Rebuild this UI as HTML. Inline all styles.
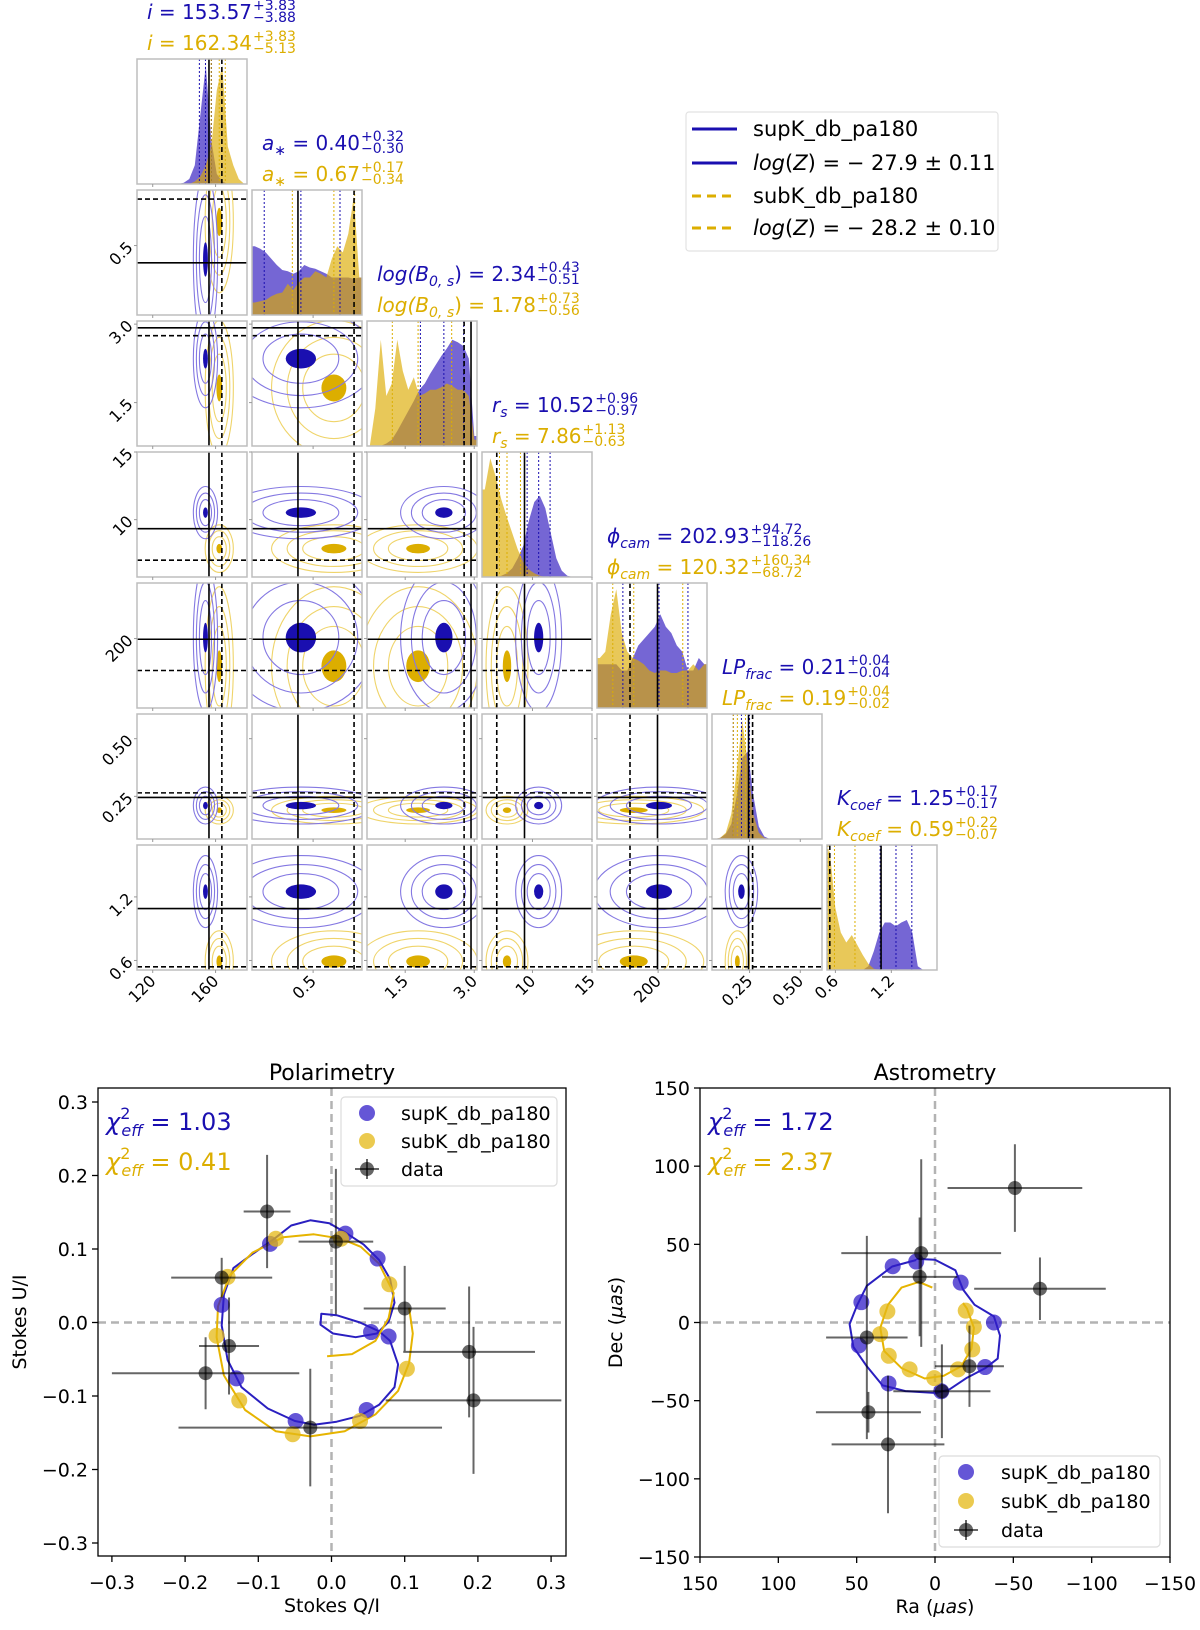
<!DOCTYPE html>
<html><head><meta charset="utf-8"><style>
html,body{margin:0;padding:0;background:#fff;}
svg{display:block;font-family:"DejaVu Sans","Liberation Sans",sans-serif;}
</style></head><body>
<svg id="fig" width="1200" height="1630" viewBox="0 0 1200 1630" xmlns="http://www.w3.org/2000/svg">
<rect x="0" y="0" width="1200" height="1630" fill="#fff"/>
<g id="corner"></g>
<g id="legendCorner">
  <rect x="686" y="112" width="312" height="139" rx="3" fill="#fff" stroke="#e2e2e2" stroke-width="1.2"/>
  <line x1="692" y1="129" x2="737" y2="129" stroke="#1a0fb0" stroke-width="3"/>
  <text x="753" y="136" font-size="21">supK_db_pa180</text>
  <line x1="692" y1="163" x2="737" y2="163" stroke="#1a0fb0" stroke-width="3"/>
  <text x="753" y="170" font-size="21"><tspan font-style="italic">log</tspan>(<tspan font-style="italic">Z</tspan>) = − 27.9 ± 0.11</text>
  <line x1="692" y1="196" x2="737" y2="196" stroke="#dcae00" stroke-width="3" stroke-dasharray="9,6"/>
  <text x="753" y="203" font-size="21">subK_db_pa180</text>
  <line x1="692" y1="228" x2="737" y2="228" stroke="#dcae00" stroke-width="3" stroke-dasharray="9,6"/>
  <text x="753" y="235" font-size="21"><tspan font-style="italic">log</tspan>(<tspan font-style="italic">Z</tspan>) = − 28.2 ± 0.10</text>
</g>
<g id="pol"></g>
<g id="ast"></g>
</svg>
<script>
// ---------- CORNER DATA ----------
const paramNames = ['i','a_star','logB','r_s','phi_cam','LP_frac','K_coef'];
const rangeMin = [110, 0, 0.67, 5.76, 0, 0.065, 0.51];
const rangeMax = [180, 0.9, 3.06, 15, 360, 0.607, 1.69];
const medSup = [153.57, 0.40, 2.34, 10.52, 202.93, 0.21, 1.25];
const plusSup = [3.83, 0.32, 0.43, 0.96, 94.72, 0.04, 0.17];
const minusSup = [3.88, 0.30, 0.51, 0.97, 118.26, 0.04, 0.17];
const medSub = [162.34, 0.67, 1.78, 7.86, 120.32, 0.19, 0.59];
const plusSub = [3.83, 0.17, 0.73, 1.13, 160.34, 0.04, 0.22];
const minusSub = [5.13, 0.34, 0.56, 0.63, 68.72, 0.02, 0.07];
const truthSolid = [155.8, 0.376, 2.93, 9.33, 198, 0.245, 1.09];
const truthDashed = [164, 0.835, 2.78, 7.0, 108, 0.265, 0.54];
const histSup_i = [0,0,0,0,0,0,0,0,0.01,0.04,0.15,0.55,0.95,0.35,0.08,0.02,0,0,0,0];
const histSub_i = [0,0,0,0,0,0,0,0,0,0,0.02,0.06,0.15,0.3,0.75,0.95,0.3,0.15,0.04,0];
const histSup_a = [0.55,0.53,0.5,0.45,0.4,0.36,0.35,0.33,0.35,0.4,0.38,0.37,0.35,0.33,0.3,0.3,0.3,0.3,0.29,0.3];
const histSub_a = [0.1,0.11,0.12,0.15,0.17,0.18,0.25,0.2,0.26,0.3,0.3,0.35,0.33,0.3,0.45,0.55,0.5,0.65,0.95,0.3];
const histSup_B = [0,0,0,0.02,0.05,0.12,0.2,0.28,0.36,0.45,0.5,0.58,0.65,0.72,0.78,0.85,0.83,0.8,0.7,0.08];
const histSub_B = [0,0.3,0.85,0.4,0.5,0.85,0.6,0.45,0.55,0.4,0.42,0.45,0.45,0.47,0.5,0.48,0.45,0.45,0.4,0.05];
const histSup_rs = [0,0,0,0.01,0.03,0.07,0.15,0.25,0.45,0.6,0.65,0.55,0.35,0.15,0.05,0.01,0,0,0,0];
const histSub_rs = [0.7,0.95,0.8,0.62,0.48,0.35,0.22,0.12,0.06,0.03,0.01,0,0,0,0,0,0,0,0,0];
const histSup_phi = [0.35,0.35,0.35,0.35,0.3,0.3,0.4,0.5,0.55,0.6,0.65,0.75,0.65,0.6,0.5,0.45,0.3,0.3,0.4,0.35];
const histSub_phi = [0.4,0.45,0.75,0.95,0.6,0.45,0.4,0.38,0.35,0.3,0.28,0.3,0.3,0.28,0.28,0.3,0.3,0.35,0.3,0.35];
const histSup_LP = [0,0.01,0.04,0.12,0.35,0.65,0.7,0.35,0.1,0.02,0,0,0,0,0,0,0,0,0,0];
const histSub_LP = [0,0.01,0.05,0.2,0.55,0.95,0.6,0.2,0.05,0.01,0,0,0,0,0,0,0,0,0,0];
const histSup_K = [0,0,0,0,0,0,0,0.03,0.15,0.3,0.38,0.38,0.35,0.38,0.4,0.3,0.03,0,0,0];
const histSub_K = [0.95,0.5,0.3,0.22,0.28,0.2,0.12,0.05,0.01,0,0,0,0,0,0,0,0,0,0,0];
const histSup = [histSup_i,histSup_a,histSup_B,histSup_rs,histSup_phi,histSup_LP,histSup_K];
const histSub = [histSub_i,histSub_a,histSub_B,histSub_rs,histSub_phi,histSub_LP,histSub_K];
const tickVals = [[120,160],[0.5],[1.5,3.0],[10,15],[200],[0.25,0.50],[0.6,1.2]];
const tickLabels = [['120','160'],['0.5'],['1.5','3.0'],['10','15'],['200'],['0.25','0.50'],['0.6','1.2']];

// ---------- POLARIMETRY DATA ----------
const polDataQ = [-0.088,0.006,-0.150,0.100,-0.140,-0.172,0.188,0.194,-0.029];
const polDataU = [0.151,0.110,0.061,0.019,-0.032,-0.069,-0.040,-0.106,-0.143];
const polErrQ = [0.032,0.051,0.069,0.056,0.041,0.128,0.090,0.120,0.180];
const polErrU = [0.077,0.099,0.027,0.058,0.066,0.049,0.089,0.100,0.080];
const polSupQ = [0.019,0.063,-0.150,0.054,0.078,-0.130,0.048,-0.049,-0.084];
const polSupU = [0.121,0.087,0.024,-0.013,-0.019,-0.076,-0.119,-0.134,0.107];
const polSubQ = [-0.076,0.013,-0.142,0.079,-0.157,0.103,-0.126,0.039,-0.053];
const polSubU = [0.114,0.114,0.062,0.052,-0.018,-0.063,-0.106,-0.134,-0.152];
const polSupCurveQ = [-0.082,-0.055,-0.029,-0.003,0.018,0.044,0.065,0.080,0.086,0.078,0.062,0.033,0.002,-0.015,-0.014,0.007,0.039,0.065,0.080,0.091,0.086,0.065,0.039,0.007,-0.024,-0.050,-0.087,-0.123,-0.142,-0.150,-0.147,-0.134,-0.108,-0.081];
const polSupCurveU = [0.111,0.132,0.139,0.135,0.123,0.106,0.085,0.059,0.027,0.001,-0.015,-0.020,-0.015,-0.003,0.012,0.010,0.0,-0.012,-0.025,-0.057,-0.088,-0.112,-0.127,-0.135,-0.139,-0.134,-0.117,-0.088,-0.051,-0.004,0.038,0.074,0.093,0.112];
const polSubCurveQ = [-0.006,0.028,0.060,0.078,0.085,0.079,0.065,0.040,0.013,-0.024,-0.066,-0.108,-0.139,-0.155,-0.157,-0.147,-0.118,-0.076,-0.029,0.018,0.060,0.091,0.106,0.111,0.106];
const polSubCurveU = [-0.046,-0.043,-0.025,0.006,0.040,0.052,0.080,0.103,0.114,0.120,0.116,0.095,0.064,0.022,-0.020,-0.072,-0.119,-0.148,-0.155,-0.148,-0.125,-0.093,-0.055,-0.015,0.020];
const polTicks = [-0.3,-0.2,-0.1,0.0,0.1,0.2,0.3];
const polTickLabels = ['−0.3','−0.2','−0.1','0.0','0.1','0.2','0.3'];

// ---------- ASTROMETRY DATA ----------
const astDataRa = [-51,8.8,9.8,-67,43.5,-22,-4.4,42.5,30];
const astDataDec = [86,44.4,29.2,21.6,-9.6,-28,-44,-57.4,-78];
const astErrRa = [43,51,24,42,26,22,31,33.5,36];
const astErrDec = [28,60,38,20,65,26,30,13,44];
const astSupRa = [27,12,-16.4,47,-37.6,48.6,-32,29.7,-4];
const astSupDec = [36,39,25.5,13,0,-14.7,-28.5,-39,-44];
const astSubRa = [30.4,-19.6,-24.8,35,-23.8,29.5,16.2,-14.7,0.5];
const astSubDec = [7.1,7.6,-2.9,-7.4,-17.2,-21.3,-30,-30,-35.6];
const astSupCurveRa = [12.0,0,-13.0,-17.9,-25.3,-37.6,-41.5,-40.0,-32.2,-20.4,-9.3,-0.7,18.9,33.6,43.5,52.1,54.5,49.6,43.5,27.3,12.0];
const astSupCurveDec = [40.7,40.2,33.4,21.1,11.3,3.9,-8.3,-23.1,-29.2,-35.3,-42.7,-45.1,-43.9,-40.2,-28.0,-15.7,-1.0,11.3,23.5,35.8,40.0];
const astSubCurveRa = [1.7,10.3,21.4,30,34.9,32.4,21.4,6.6,-5.6,-16.7,-23.3,-24.8,-20.4,-17.9];
const astSubCurveDec = [22.3,26,22.3,11.3,-3.4,-18.2,-29.2,-35.8,-34.1,-28,-16.9,-3.4,8.8,12.5];
const astTicks = [150,100,50,0,-50,-100,-150];
const astTickLabels = ['150','100','50','0','−50','−100','−150'];

const NS='http://www.w3.org/2000/svg';
function mk(tag, attrs, parent){const e=document.createElementNS(NS,tag);for(const k in attrs)e.setAttribute(k,attrs[k]);if(parent)parent.appendChild(e);return e;}
const BLUE='#1a0fb0', GOLD='#dcae00';

// ---------- CORNER ----------
const corner=document.getElementById('corner');
const W=110,H=125;
function colLeft(c){return 137+115*c;}
function rowTop(r){return 59+131*r;}
function xS(c,v){return colLeft(c)+(v-rangeMin[c])/(rangeMax[c]-rangeMin[c])*W;}
function yS(r,v){return rowTop(r)+H-(v-rangeMin[r])/(rangeMax[r]-rangeMin[r])*H;}
const defs=mk('defs',{},corner);
const N=paramNames.length;
for(let r=0;r<N;r++){
  for(let c=0;c<=r;c++){
    const g=mk('g',{},corner);
    
    
    const cid='clip'+r+'_'+c;
    const cp=mk('clipPath',{id:cid},defs);
    mk('rect',{x:colLeft(c),y:rowTop(r),width:W,height:H},cp);
    const inner=mk('g',{'clip-path':'url(#'+cid+')'},g);
    if(r===c){
      const drawHist=(arr,fill,name)=>{
        const n=arr.length;let d='M'+colLeft(c)+','+(rowTop(r)+H);
        d+=' L'+colLeft(c)+','+(rowTop(r)+H-arr[0]*H);
        for(let k=0;k<n;k++){const v=rangeMin[c]+(k+0.5)*(rangeMax[c]-rangeMin[c])/n;d+=' L'+xS(c,v).toFixed(1)+','+(rowTop(r)+H-arr[k]*H).toFixed(1);}
        d+=' L'+(colLeft(c)+W)+','+(rowTop(r)+H-arr[n-1]*H)+' L'+(colLeft(c)+W)+','+(rowTop(r)+H)+' Z';
        const p=mk('path',{d:d,fill:fill},inner);
        
        
      };
      drawHist(histSup[c],'#7566d4','hist-sup-'+paramNames[c]);
      drawHist(histSub[c],'rgba(220,170,0,0.65)','hist-sub-'+paramNames[c]);
      [[medSup[c]-minusSup[c],medSup[c],medSup[c]+plusSup[c]],[medSub[c]-minusSub[c],medSub[c],medSub[c]+plusSub[c]]].forEach((qs,m)=>{
        qs.forEach(q=>{const x=xS(c,q);mk('line',{x1:x,y1:rowTop(r),x2:x,y2:rowTop(r)+H,stroke:m?GOLD:BLUE,'stroke-width':1,'stroke-dasharray':'2,2'},inner);});
      });
      let x=xS(c,truthSolid[c]);mk('line',{x1:x,y1:rowTop(r),x2:x,y2:rowTop(r)+H,stroke:'#000','stroke-width':1.6},inner);
      x=xS(c,truthDashed[c]);mk('line',{x1:x,y1:rowTop(r),x2:x,y2:rowTop(r)+H,stroke:'#000','stroke-width':1.6,'stroke-dasharray':'5,3'},inner);
    } else {
      const models=[[medSub,plusSub,minusSub,'#efd46a','#dcae00','sub'],[medSup,plusSup,minusSup,'#8478e2','#1a0fb0','sup']];
      models.forEach(mm=>{
        const cx=xS(c,mm[0][c]), cy=yS(r,mm[0][r]);
        const sx=(mm[1][c]+mm[2][c])/2/(rangeMax[c]-rangeMin[c])*W;
        const sy=(mm[1][r]+mm[2][r])/2/(rangeMax[r]-rangeMin[r])*H;
        [2.0,1.5,1.0].forEach(k=>{mk('ellipse',{cx:cx,cy:cy,rx:sx*k,ry:sy*k,fill:'none',stroke:mm[3],'stroke-width':1.1},inner);});
        const core=mk('ellipse',{cx:cx,cy:cy,rx:sx*0.4,ry:sy*0.4,fill:mm[4]},inner);
        
        
      });
      let x=xS(c,truthSolid[c]);mk('line',{x1:x,y1:rowTop(r),x2:x,y2:rowTop(r)+H,stroke:'#000','stroke-width':1.6},inner);
      x=xS(c,truthDashed[c]);mk('line',{x1:x,y1:rowTop(r),x2:x,y2:rowTop(r)+H,stroke:'#000','stroke-width':1.6,'stroke-dasharray':'5,3'},inner);
      let y=yS(r,truthSolid[r]);mk('line',{x1:colLeft(c),y1:y,x2:colLeft(c)+W,y2:y,stroke:'#000','stroke-width':1.6},inner);
      y=yS(r,truthDashed[r]);mk('line',{x1:colLeft(c),y1:y,x2:colLeft(c)+W,y2:y,stroke:'#000','stroke-width':1.6,'stroke-dasharray':'5,3'},inner);
    }
    mk('rect',{x:colLeft(c),y:rowTop(r),width:W,height:H,fill:'none',stroke:'#bdbdbd','stroke-width':1.5},g);
    // small ticks
    tickVals[c].forEach(v=>{const x=xS(c,v);mk('line',{x1:x,y1:rowTop(r)+H,x2:x,y2:rowTop(r)+H+3,stroke:'#999','stroke-width':1},g);});
    if(r!==c) tickVals[r].forEach(v=>{const y=yS(r,v);mk('line',{x1:colLeft(c)-3,y1:y,x2:colLeft(c),y2:y,stroke:'#999','stroke-width':1},g);});
  }
}
// tick labels
for(let c=0;c<N;c++){
  tickVals[c].forEach((v,k)=>{
    const x=xS(c,v), y=rowTop(N-1)+H+8;
    const t=mk('text',{x:x+4,y:y+4,'font-size':16,'text-anchor':'end',transform:'rotate(-45 '+(x+4)+' '+(y+4)+')'},corner);
    t.textContent=tickLabels[c][k];
    
    
  });
}
for(let r=1;r<N;r++){
  tickVals[r].forEach((v,k)=>{
    const y=yS(r,v), x=colLeft(0)-6;
    const t=mk('text',{x:x,y:y+4,'font-size':16,'text-anchor':'end',transform:'rotate(-45 '+x+' '+y+')'},corner);
    t.textContent=tickLabels[r][k];
    
    
  });
}
// titles
const symMain=['i','a','log(B','r','ϕ','LP','K'];
const symSub=['','∗','0, s','s','cam','frac','coef'];
const symClose=['','','','',')'.slice(1),'',''];
function fmt(v){return v.toFixed(2);}
function title(c,med,pl,mi,color,y){
  const x=colLeft(c)+10;
  const t=mk('text',{x:x,y:y,'font-size':20,fill:color},corner);
  
  
  const a=mk('tspan',{'font-style':'italic'},t);a.textContent=symMain[c];
  if(symSub[c]){const s=mk('tspan',{'font-style':'italic','font-size':14,dy:5},t);s.textContent=symSub[c];
    const b=mk('tspan',{dy:-5},t);b.textContent=(c===2?')':'')+' = '+fmt(med[c]);}
  else{const b=mk('tspan',{},t);b.textContent=' = '+fmt(med[c]);}
  const L=t.getComputedTextLength();
  const p=mk('text',{x:x+L+1,y:y-9,'font-size':14,fill:color},corner);p.textContent='+'+fmt(pl[c]);
  const m=mk('text',{x:x+L+1,y:y+3,'font-size':14,fill:color},corner);m.textContent='−'+fmt(mi[c]);
}
for(let c=0;c<N;c++){
  title(c,medSup,plusSup,minusSup,BLUE,rowTop(c)-40);
  title(c,medSub,plusSub,minusSub,GOLD,rowTop(c)-9);
}

// ---------- SCATTER PANELS ----------
function panel(gid,ax,ay,xs,ys,cfg){
  const g=document.getElementById(gid);
  const cp=mk('clipPath',{id:gid+'clip'},defs);
  mk('rect',{x:ax[0],y:ay[0],width:ax[1]-ax[0],height:ay[1]-ay[0]},cp);
  const inner=mk('g',{'clip-path':'url(#'+gid+'clip)'},g);
  mk('line',{x1:xs(0),y1:ay[0],x2:xs(0),y2:ay[1],stroke:'#b3b3b3','stroke-width':2.5,'stroke-dasharray':'8,5'},inner);
  mk('line',{x1:ax[0],y1:ys(0),x2:ax[1],y2:ys(0),stroke:'#b3b3b3','stroke-width':2.5,'stroke-dasharray':'8,5'},inner);
  const curve=(X,Y,col,name)=>{let d='';X.forEach((v,k)=>{d+=(k?' L':'M')+xs(v).toFixed(1)+','+ys(Y[k]).toFixed(1);});
    const p=mk('path',{d:d,fill:'none',stroke:col,'stroke-width':2,'stroke-linejoin':'round'},inner);
    
    };
  curve(cfg.supCX,cfg.supCY,'#2a1fc0','sup-model-curve');
  curve(cfg.subCX,cfg.subCY,'#e6b400','sub-model-curve');
  cfg.supX.forEach((v,k)=>{const e=mk('circle',{cx:xs(v),cy:ys(cfg.supY[k]),r:8,fill:'rgba(50,30,200,0.75)'},inner);
    
    });
  cfg.subX.forEach((v,k)=>{const e=mk('circle',{cx:xs(v),cy:ys(cfg.subY[k]),r:8,fill:'rgba(228,184,20,0.75)'},inner);
    
    });
  cfg.dX.forEach((v,k)=>{
    const cx=xs(v), cy=ys(cfg.dY[k]);
    const eg=mk('g',{},inner);
    
    
    mk('line',{x1:xs(v-cfg.eX[k]),y1:cy,x2:xs(v+cfg.eX[k]),y2:cy,stroke:'rgba(0,0,0,0.6)','stroke-width':2},eg);
    mk('line',{x1:cx,y1:ys(cfg.dY[k]-cfg.eY[k]),x2:cx,y2:ys(cfg.dY[k]+cfg.eY[k]),stroke:'rgba(0,0,0,0.6)','stroke-width':2},eg);
    mk('circle',{cx:cx,cy:cy,r:7,fill:'rgba(0,0,0,0.6)'},eg);
  });
  mk('rect',{x:ax[0],y:ay[0],width:ax[1]-ax[0],height:ay[1]-ay[0],fill:'none',stroke:'#000','stroke-width':1.3},g);
  cfg.ticks.forEach((v,k)=>{
    const x=xs(v);mk('line',{x1:x,y1:ay[1],x2:x,y2:ay[1]+6,stroke:'#000','stroke-width':1.3},g);
    const t=mk('text',{x:x,y:ay[1]+33,'font-size':19,'text-anchor':'middle'},g);t.textContent=cfg.tickLabels[k];
    
    
    const y=ys(v);mk('line',{x1:ax[0]-6,y1:y,x2:ax[0],y2:y,stroke:'#000','stroke-width':1.3},g);
    const t2=mk('text',{x:ax[0]-10,y:y+7,'font-size':19,'text-anchor':'end'},g);t2.textContent=cfg.tickLabels[k];
    
    
  });
  const tt=mk('text',{x:(ax[0]+ax[1])/2,y:ay[0]-8,'font-size':22,'text-anchor':'middle'},g);tt.textContent=cfg.title;
  
  
  const xl=mk('text',{x:(ax[0]+ax[1])/2,y:ay[1]+56,'font-size':19,'text-anchor':'middle'},g);xl.innerHTML=cfg.xlabel;
  
  
  const yx=cfg.ylx, yy=(ay[0]+ay[1])/2;
  const yl=mk('text',{x:yx,y:yy,'font-size':19,'text-anchor':'middle',transform:'rotate(-90 '+yx+' '+yy+')'},g);yl.innerHTML=cfg.ylabel;
  
  
  // chi texts
  [[cfg.chi[0],BLUE,ay[0]+42],[cfg.chi[1],GOLD,ay[0]+82]].forEach(ch=>{
    const x=ax[0]+8;
    const t=mk('text',{x:x,y:ch[2],'font-size':24,fill:ch[1]},g);
    
    
    const a=mk('tspan',{'font-style':'italic'},t);a.textContent='χ';
    const s1=mk('tspan',{'font-size':16,dy:-11},t);s1.textContent='2';
    const s2=mk('tspan',{'font-size':16,'font-style':'italic',dx:-9,dy:17},t);s2.textContent='eff';
    const b=mk('tspan',{dy:-6},t);b.textContent=' = '+ch[0];
  });
  // legend
  const L=cfg.leg;const lg=mk('g',{},g);
  
  
  mk('rect',{x:L.x,y:L.y,width:L.w,height:L.h,rx:4,fill:'rgba(255,255,255,0.85)',stroke:'#dcdcdc','stroke-width':1.2},lg);
  const ents=[['rgba(50,30,200,0.75)','supK_db_pa180'],['rgba(228,184,20,0.75)','subK_db_pa180'],['data','data']];
  ents.forEach((e,k)=>{
    const cy=L.ey[k];
    if(e[0]==='data'){mk('line',{x1:L.mx-12,y1:cy,x2:L.mx+12,y2:cy,stroke:'rgba(0,0,0,0.6)','stroke-width':2},lg);
      mk('line',{x1:L.mx,y1:cy-10,x2:L.mx,y2:cy+10,stroke:'rgba(0,0,0,0.6)','stroke-width':2},lg);
      mk('circle',{cx:L.mx,cy:cy,r:7,fill:'rgba(0,0,0,0.6)'},lg);}
    else mk('circle',{cx:L.mx,cy:cy,r:8,fill:e[0]},lg);
    const t=mk('text',{x:L.tx,y:cy+7,'font-size':19},lg);t.textContent=e[1];
  });
}
const pX=v=>331.5+v*732, pY=v=>1322.5-v*735;
panel('pol',[98,566],[1088,1556],pX,pY,{supCX:polSupCurveQ,supCY:polSupCurveU,subCX:polSubCurveQ,subCY:polSubCurveU,
  supX:polSupQ,supY:polSupU,subX:polSubQ,subY:polSubU,dX:polDataQ,dY:polDataU,eX:polErrQ,eY:polErrU,
  ticks:polTicks,tickLabels:polTickLabels,title:'Polarimetry',xlabel:'Stokes Q/I',ylabel:'Stokes U/I',ylx:26,
  chi:['1.03','0.41'],leg:{x:341,y:1097,w:216,h:89,ey:[1113,1141,1169],mx:367,tx:401}});
const aX=v=>935-v*1.5667, aY=v=>1322.5-v*1.5633;
panel('ast',[700,1170],[1088,1557],aX,aY,{supCX:astSupCurveRa,supCY:astSupCurveDec,subCX:astSubCurveRa,subCY:astSubCurveDec,
  supX:astSupRa,supY:astSupDec,subX:astSubRa,subY:astSubDec,dX:astDataRa,dY:astDataDec,eX:astErrRa,eY:astErrDec,
  ticks:astTicks,tickLabels:astTickLabels,title:'Astrometry',xlabel:'Ra (<tspan font-style="italic">μas</tspan>)',ylabel:'Dec (<tspan font-style="italic">μas</tspan>)',ylx:622,
  chi:['1.72','2.37'],leg:{x:939,y:1456,w:221,h:91,ey:[1472,1501,1530],mx:966,tx:1001}});
</script>
</body></html>
